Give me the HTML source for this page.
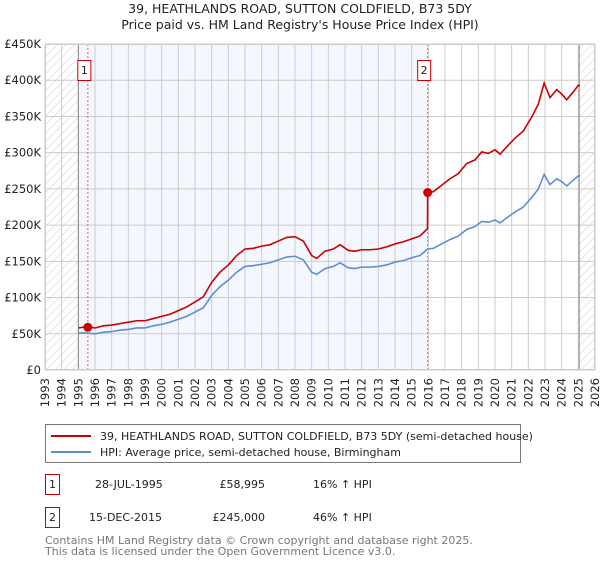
<!DOCTYPE html>
<html><head><meta charset="utf-8">
<style>
body{margin:0;background:#fff;font-family:"DejaVu Sans","Liberation Sans",sans-serif;}
svg text{font-family:"DejaVu Sans","Liberation Sans",sans-serif;}
</style></head>
<body>
<svg id="chart" width="600" height="560" viewBox="0 0 600 560">
<defs>
<pattern id="hatch" width="6" height="6" patternUnits="userSpaceOnUse" patternTransform="rotate(45)">
<line x1="0" y1="0" x2="0" y2="6" stroke="#ccc" stroke-width="1"/>
</pattern>
</defs>
<text x="300" y="13" text-anchor="middle" font-size="12.5" fill="#222">39, HEATHLANDS ROAD, SUTTON COLDFIELD, B73 5DY</text>
<text x="300" y="29" text-anchor="middle" font-size="12.5" fill="#222">Price paid vs. HM Land Registry's House Price Index (HPI)</text>
<g id="plot"></g>
<g>
<rect x="45.5" y="424.5" width="475" height="38" fill="#fff" stroke="#777"/>
<line x1="51" y1="436" x2="91" y2="436" stroke="#cc0000" stroke-width="2"/>
<text x="100" y="440" font-size="11" fill="#222">39, HEATHLANDS ROAD, SUTTON COLDFIELD, B73 5DY (semi-detached house)</text>
<line x1="51" y1="452" x2="91" y2="452" stroke="#5b8fd4" stroke-width="2"/>
<text x="100" y="456" font-size="11" fill="#222">HPI: Average price, semi-detached house, Birmingham</text>
</g>
<g font-size="11" fill="#222">
<rect x="45.5" y="474.5" width="14" height="20" fill="#fff" stroke="#cc0000"/>
<text x="52.5" y="488" text-anchor="middle">1</text>
<text x="95" y="488">28-JUL-1995</text>
<text x="265" y="488" text-anchor="end">£58,995</text>
<text x="313" y="488">16% ↑ HPI</text>
</g>
<g font-size="11" fill="#222">
<rect x="45.5" y="507.5" width="14" height="20" fill="#fff" stroke="#cc0000"/>
<text x="52.5" y="521" text-anchor="middle">2</text>
<text x="89" y="521">15-DEC-2015</text>
<text x="265" y="521" text-anchor="end">£245,000</text>
<text x="313" y="521">46% ↑ HPI</text>
</g>
<text x="45" y="544" font-size="11" fill="#777">Contains HM Land Registry data © Crown copyright and database right 2025.</text>
<text x="45" y="555" font-size="11" fill="#777">This data is licensed under the Open Government Licence v3.0.</text>
</svg>
<script>
const hpiDates=[1995.0,1995.5,1996.0,1996.5,1997.0,1997.5,1998.0,1998.5,1999.0,1999.5,2000.0,2000.5,2001.0,2001.5,2002.0,2002.5,2003.0,2003.5,2004.0,2004.5,2005.0,2005.5,2006.0,2006.5,2007.0,2007.5,2008.0,2008.5,2009.0,2009.3,2009.8,2010.3,2010.7,2011.2,2011.6,2012.0,2012.5,2013.0,2013.5,2014.0,2014.5,2015.0,2015.5,2015.96,2016.3,2016.8,2017.3,2017.8,2018.3,2018.8,2019.2,2019.6,2020.0,2020.3,2020.7,2021.2,2021.7,2022.2,2022.6,2022.95,2023.3,2023.7,2024.0,2024.3,2024.7,2025.0,2025.1];
const hpiValues=[51,51,50,52,53,55,56,58,58,61,63,66,70,74,80,86,103,115,124,135,143,144,146,148,152,156,157,152,135,132,140,143,148,141,140,142,142,143,145,149,151,155,158,167,168,174,180,185,194,198,205,204,207,203,210,218,225,238,250,270,256,264,260,254,262,268,268];
const priceDates=[1995.0,1995.5,1996.0,1996.5,1997.0,1997.5,1998.0,1998.5,1999.0,1999.5,2000.0,2000.5,2001.0,2001.5,2002.0,2002.5,2003.0,2003.5,2004.0,2004.5,2005.0,2005.5,2006.0,2006.5,2007.0,2007.5,2008.0,2008.5,2009.0,2009.3,2009.8,2010.3,2010.7,2011.2,2011.6,2012.0,2012.5,2013.0,2013.5,2014.0,2014.5,2015.0,2015.5,2015.95,2015.96,2016.3,2016.8,2017.3,2017.8,2018.3,2018.8,2019.2,2019.6,2020.0,2020.3,2020.7,2021.2,2021.7,2022.2,2022.6,2022.95,2023.3,2023.7,2024.0,2024.3,2024.7,2025.0,2025.1];
const priceValues=[58,60,58,61,62,64,66,68,68,71,74,77,82,87,94,101,121,135,145,158,167,168,171,173,178,183,184,178,158,154,164,167,173,165,164,166,166,167,170,174,177,181,185,195,245,246,255,264,271,285,290,301,299,304,298,308,320,330,349,367,396,376,387,381,373,384,393,393];
const saleDates=[1995.57,2015.96];
const saleValues=[58.995,245];
const saleLabels=["1","2"];
const yTicks=[0,50,100,150,200,250,300,350,400,450];
const yTickLabels=["£0","£50K","£100K","£150K","£200K","£250K","£300K","£350K","£400K","£450K"];
const xTicks=[1993,1994,1995,1996,1997,1998,1999,2000,2001,2002,2003,2004,2005,2006,2007,2008,2009,2010,2011,2012,2013,2014,2015,2016,2017,2018,2019,2020,2021,2022,2023,2024,2025,2026];

const X0=45,X1=595,Y0=370,Y1=44;
const xs=d=>X0+(d-1993)/(2026-1993)*(X1-X0);
const ys=v=>Y0-v/450*(Y0-Y1);
const NS="http://www.w3.org/2000/svg";
const g=document.getElementById('plot');
function mk(t,a){const e=document.createElementNS(NS,t);for(const k in a)e.setAttribute(k,a[k]);g.appendChild(e);return e;}

let e;
e=mk('rect',{x:X0,y:Y1,width:X1-X0,height:Y0-Y1,fill:'#fff'});


e=mk('rect',{x:xs(1995),y:Y1,width:xs(saleDates[1])-xs(1995),height:Y0-Y1,fill:'#f4f7fe'});


e=mk('rect',{x:X0,y:Y1,width:xs(1995)-X0,height:Y0-Y1,fill:'url(#hatch)'});


e=mk('rect',{x:xs(2025.05),y:Y1,width:X1-xs(2025.05),height:Y0-Y1,fill:'url(#hatch)'});



xTicks.forEach(t=>{
  const x=xs(t);
  e=mk('line',{x1:x,y1:Y1,x2:x,y2:Y0,stroke:'#ccc','stroke-width':1});
  
  
  e=mk('text',{x:0,y:0,transform:`translate(${x+4},${Y0+8}) rotate(-90)`,'text-anchor':'end','font-size':11.5,fill:'#222'});
  e.textContent=t;
  
  
});
yTicks.forEach((t,i)=>{
  const y=ys(t);
  e=mk('line',{x1:X0,y1:y,x2:X1,y2:y,stroke:'#ccc','stroke-width':1});
  
  
  e=mk('text',{x:X0-4,y:y+4,'text-anchor':'end','font-size':11.5,fill:'#222'});
  e.textContent=yTickLabels[i];
  
  
});
e=mk('line',{x1:xs(1995),y1:Y1,x2:xs(1995),y2:Y0,stroke:'#888','stroke-width':1});


e=mk('line',{x1:xs(2025.05),y1:Y1,x2:xs(2025.05),y2:Y0,stroke:'#888','stroke-width':1});



saleDates.forEach((d,i)=>{
  const x=xs(d);
  e=mk('line',{x1:x,y1:Y1,x2:x,y2:Y0,stroke:'#f06060','stroke-width':1,'stroke-dasharray':'2,2'});
  
  
  e=mk('rect',{x:x-10,y:60.5,width:13,height:20,fill:'#fff',stroke:'#cc0000'});
  
  
  e=mk('text',{x:x-3.5,y:74,'text-anchor':'middle','font-size':11,fill:'#222'});
  e.textContent=saleLabels[i];
  
  
});

e=mk('polyline',{points:hpiDates.map((d,i)=>xs(d)+','+ys(hpiValues[i])).join(' '),fill:'none',stroke:'#5b8fd4','stroke-width':1.6});


e=mk('polyline',{points:priceDates.map((d,i)=>xs(d)+','+ys(priceValues[i])).join(' '),fill:'none',stroke:'#cc0000','stroke-width':1.6});


saleDates.forEach((d,i)=>{
  e=mk('circle',{cx:xs(d),cy:ys(saleValues[i]),r:4.5,fill:'#cc0000'});
  
  
});
e=mk('rect',{x:X0+0.5,y:Y1+0.5,width:X1-X0-1,height:Y0-Y1-1,fill:'none',stroke:'#ccc'});


</script>
</body></html>
